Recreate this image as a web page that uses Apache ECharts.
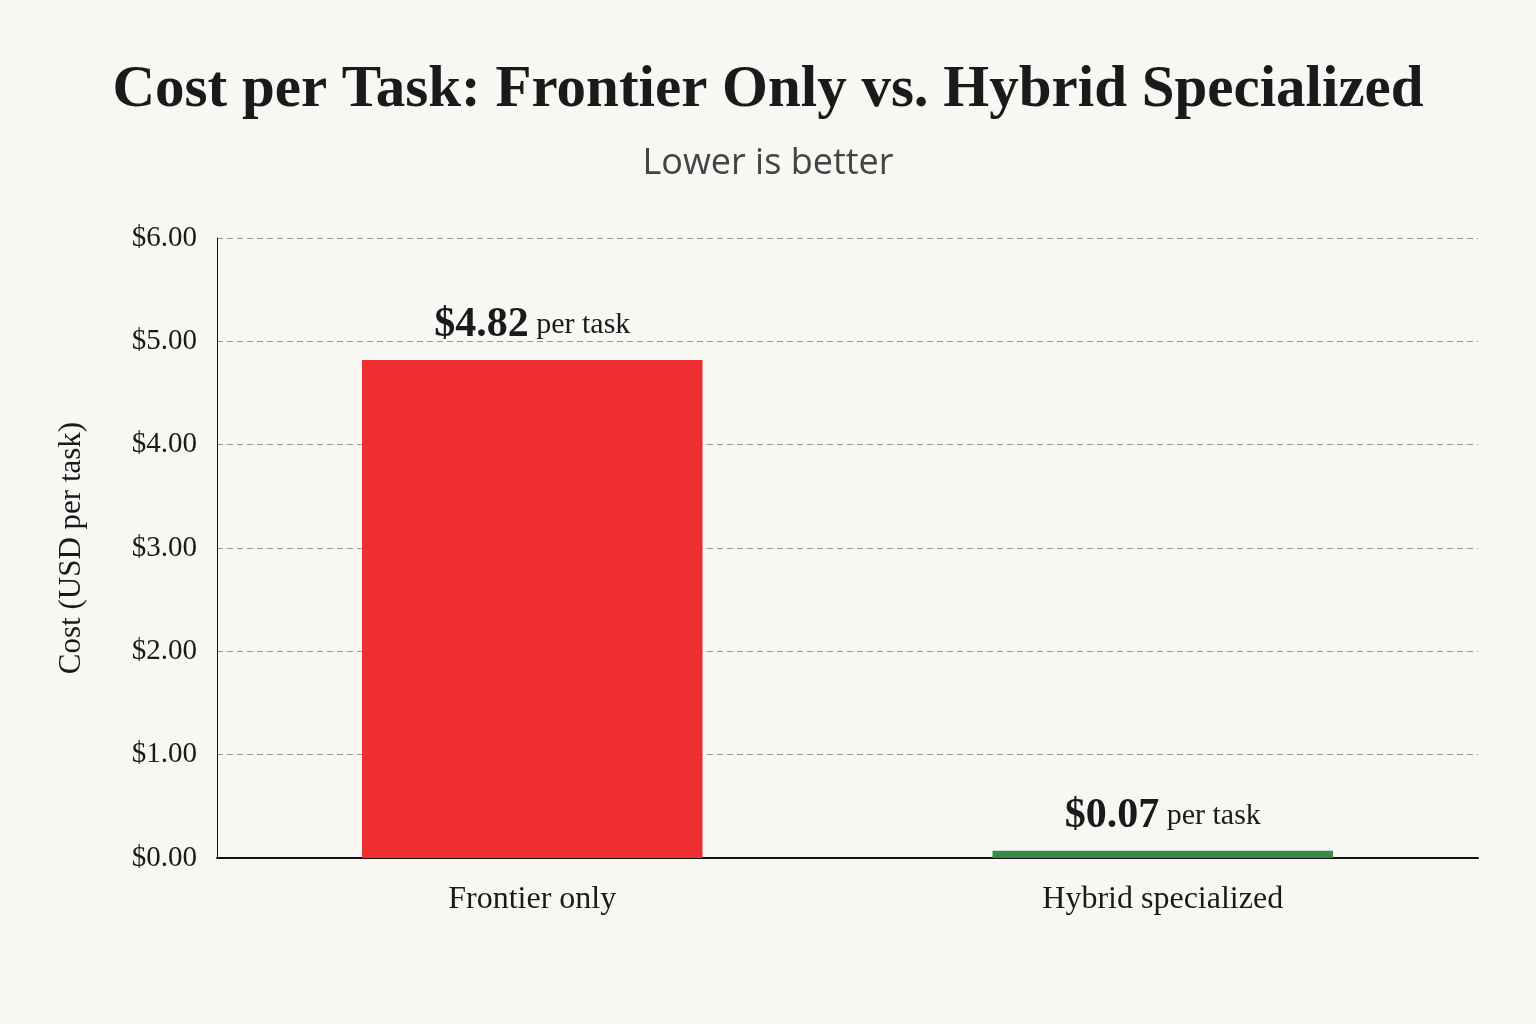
<!DOCTYPE html>
<html><head><meta charset="utf-8">
<script src="https://cdn.jsdelivr.net/npm/echarts@6/dist/echarts.min.js"></script>
<style>html,body{margin:0;background:#f8f7f4}#c{width:1536px;height:1024px}</style>
</head><body><div id="c"></div>
<script>
const categories = ["Frontier only", "Hybrid specialized"];
const costs = [4.82, 0.07];
const barColors = ["#ee2e31", "#3a8a47"];
const chart = echarts.init(document.getElementById('c'));
chart.setOption({
  backgroundColor: '#f8f7f4',
  title: {
    text: 'Cost per Task: Frontier Only vs. Hybrid Specialized',
    subtext: 'Lower is better',
    left: 'center', top: 56, itemGap: 26,
    textStyle: {fontFamily: 'Liberation Serif', fontWeight: 'bold', fontSize: 59, color: '#1a1a1a'},
    subtextStyle: {fontFamily: 'Open Sans', fontSize: 36, color: '#444'}
  },
  grid: {left: 217, right: 58, top: 238, bottom: 166},
  xAxis: {
    type: 'category', data: categories,
    axisLine: {lineStyle: {color: '#111', width: 2}},
    axisTick: {show: false},
    axisLabel: {fontFamily: 'Liberation Serif', fontSize: 32, color: '#1a1a1a', margin: 26}
  },
  yAxis: {
    type: 'value', min: 0, max: 6, interval: 1,
    name: 'Cost (USD per task)', nameLocation: 'middle', nameGap: 130,
    nameTextStyle: {fontFamily: 'Liberation Serif', fontSize: 31, color: '#1a1a1a'},
    axisLine: {show: true, lineStyle: {color: '#111', width: 1}},
    axisTick: {show: false},
    axisLabel: {fontFamily: 'Liberation Serif', fontSize: 29, color: '#1a1a1a', margin: 20,
      formatter: v => '$' + v.toFixed(2)},
    splitLine: {lineStyle: {color: '#999', type: [6, 4]}}
  },
  series: [{
    type: 'bar', barWidth: '54%',
    data: costs.map((v, i) => ({value: v, itemStyle: {color: barColors[i]}})),
    label: {
      show: true, position: 'top', distance: 14,
      formatter: p => '{a|$' + p.value.toFixed(2) + '}{b| per task}',
      rich: {
        a: {fontFamily: 'Liberation Serif', fontWeight: 'bold', fontSize: 42, color: '#1a1a1a'},
        b: {fontFamily: 'Liberation Serif', fontSize: 30, color: '#1a1a1a'}
      }
    }
  }]
});
</script></body></html>
